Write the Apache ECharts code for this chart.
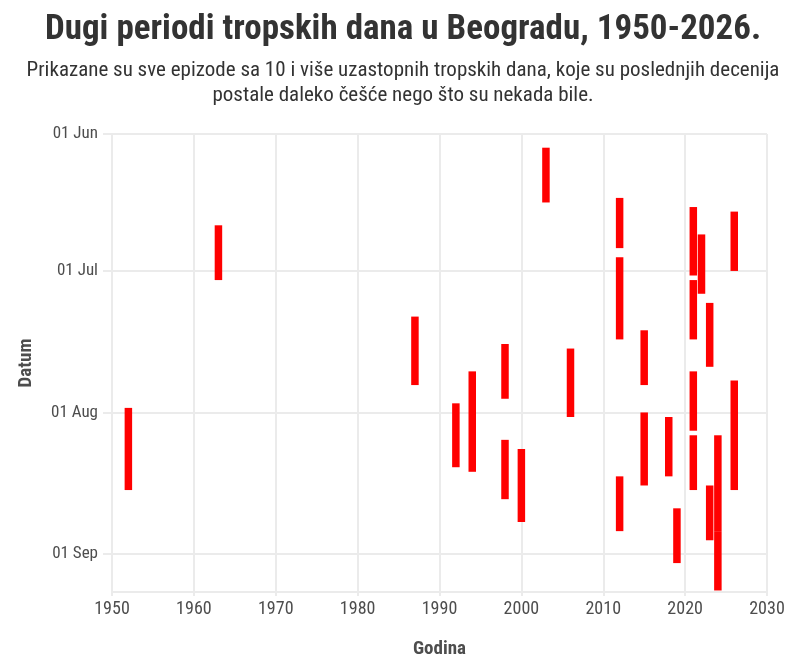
<!DOCTYPE html>
<html>
<head>
<meta charset="utf-8">
<title>Dugi periodi tropskih dana u Beogradu</title>
<script src="https://cdn.jsdelivr.net/npm/echarts@6/dist/echarts.min.js"></script>
<style>
  html, body { margin: 0; padding: 0; background: #fff; }
  #chart { width: 807px; height: 671px; }
</style>
</head>
<body>
<div id="chart"></div>
<script>
// episodes of 10+ consecutive tropical days (start / end as MM-DD)
const years = [1952, 1963, 1987, 1992, 1994, 1998, 1998, 2000, 2003, 2006,
  2012, 2012, 2012, 2015, 2015, 2018, 2019, 2021, 2021, 2021,
  2021, 2022, 2023, 2023, 2024, 2024, 2026, 2026];
const startDates = ['07-31', '06-21', '07-11', '07-30', '07-23', '07-17', '08-07', '08-09', '06-04', '07-18',
  '06-15', '06-28', '08-15', '07-14', '08-01', '08-02', '08-22', '06-17', '07-03', '07-23',
  '08-06', '06-23', '07-08', '08-17', '08-06', '08-27', '06-18', '07-25'];
const endDates = ['08-18', '07-03', '07-26', '08-13', '08-14', '07-29', '08-20', '08-25', '06-16', '08-02',
  '06-26', '07-16', '08-27', '07-26', '08-17', '08-15', '09-03', '07-02', '07-16', '08-05',
  '08-18', '07-06', '07-22', '08-29', '08-27', '09-09', '07-01', '08-18'];

const monthNames = ['Jan', 'Feb', 'Mar', 'Apr', 'May', 'Jun', 'Jul', 'Aug', 'Sep', 'Oct', 'Nov', 'Dec'];

// all dates put on one (non-leap) reference year
const REF_YEAR = 2001;
const toTime = (md) => {
  const [m, d] = md.split('-').map(Number);
  return Date.UTC(REF_YEAR, m - 1, d);
};

const FONT = "'Roboto Condensed', 'Liberation Sans Narrow', 'DejaVu Sans Condensed', sans-serif";
const GRID_COLOR = '#ebebeb';
const TEXT_COLOR = '#4d4d4d';

const episodes = years.map((y, i) => [y, toTime(startDates[i]), toTime(endDates[i])]);

const chart = echarts.init(document.getElementById('chart'));

const option = {
  useUTC: true,
  animation: false,
  title: {
    text: 'Dugi periodi tropskih dana u Beogradu, 1950-2026.',
    subtext: 'Prikazane su sve epizode sa 10 i više uzastopnih tropskih dana, koje su poslednjih decenija\npostale daleko češće nego što su nekada bile.',
    left: 398,
    textAlign: 'center',
    top: 8,
    itemGap: 10,
    textStyle: {
      fontFamily: FONT,
      fontWeight: 'bold',
      fontSize: 35,
      color: '#333'
    },
    subtextStyle: {
      fontFamily: FONT,
      fontSize: 21,
      lineHeight: 25,
      color: '#333'
    }
  },
  grid: {
    left: 112,
    right: 40,
    top: 134,
    bottom: 79
  },
  xAxis: {
    type: 'value',
    min: 1950,
    max: 2030,
    interval: 10,
    name: 'Godina',
    nameLocation: 'middle',
    nameGap: 48,
    nameTextStyle: { fontFamily: FONT, fontWeight: 'bold', fontSize: 19, color: TEXT_COLOR },
    axisLine: { show: true, lineStyle: { color: GRID_COLOR, width: 2 } },
    axisTick: { show: true, length: 4, lineStyle: { color: GRID_COLOR, width: 2 } },
    axisLabel: { fontFamily: FONT, fontSize: 18, color: TEXT_COLOR, margin: 8, formatter: (v) => String(v) },
    splitLine: { show: true, lineStyle: { color: GRID_COLOR, width: 2 } }
  },
  yAxis: {
    type: 'time',
    inverse: true,
    min: Date.UTC(REF_YEAR, 5, 1),
    max: Date.UTC(REF_YEAR, 8, 9, 8),
    minInterval: 28 * 86400000,
    maxInterval: 31 * 86400000,
    name: 'Datum',
    nameLocation: 'middle',
    nameGap: 76,
    nameTextStyle: { fontFamily: FONT, fontWeight: 'bold', fontSize: 19, color: TEXT_COLOR },
    axisLine: { show: true, lineStyle: { color: GRID_COLOR, width: 2 } },
    axisTick: { show: true, length: 9, lineStyle: { color: GRID_COLOR, width: 2 } },
    axisLabel: {
      fontFamily: FONT,
      fontSize: 17,
      color: TEXT_COLOR,
      margin: 14,
      formatter: (v) => {
        const d = new Date(v);
        return String(d.getUTCDate()).padStart(2, '0') + ' ' + monthNames[d.getUTCMonth()];
      }
    },
    splitLine: { show: true, lineStyle: { color: GRID_COLOR, width: 2 } }
  },
  series: [
    {
      type: 'custom',
      name: 'Epizode',
      data: episodes,
      encode: { x: 0, y: [1, 2] },
      renderItem: (params, api) => {
        const top = api.coord([api.value(0), api.value(1)]);
        const bottom = api.coord([api.value(0), api.value(2)]);
        const w = 7.5;
        return {
          type: 'rect',
          shape: { x: top[0] - w / 2, y: top[1], width: w, height: bottom[1] - top[1] },
          style: { fill: '#ff0000' }
        };
      }
    }
  ]
};

chart.setOption(option);
</script>
</body>
</html>
